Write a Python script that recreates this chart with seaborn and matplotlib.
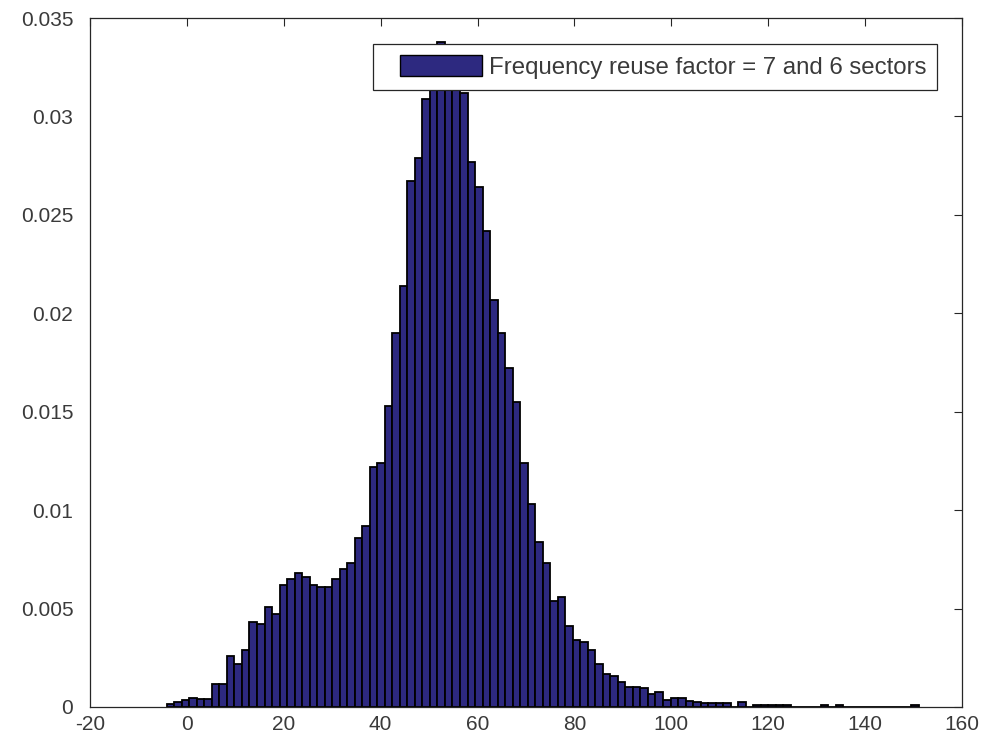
import numpy as np
import pandas as pd
import matplotlib
matplotlib.use("Agg")
import matplotlib.pyplot as plt
import seaborn as sns
from matplotlib.patches import Patch, Rectangle
from matplotlib.legend_handler import HandlerPatch

# Histogram of the distribution (probability density per bin)
bin_start = -4.15
bin_width = 1.552
density = [
    0.00015, 0.00025, 0.00034, 0.00044, 0.00040, 0.00040, 0.00117, 0.00117, 0.00260, 0.00220,
    0.00290, 0.00430, 0.00420, 0.00510, 0.00470, 0.00620, 0.00650, 0.00680, 0.00660, 0.00620,
    0.00610, 0.00610, 0.00650, 0.00700, 0.00730, 0.00860, 0.00920, 0.01220, 0.01240, 0.01530,
    0.01900, 0.02140, 0.02670, 0.02790, 0.03090, 0.03200, 0.03380, 0.03300, 0.03220, 0.03120,
    0.02770, 0.02640, 0.02420, 0.02070, 0.01900, 0.01720, 0.01550, 0.01240, 0.01030, 0.00840,
    0.00730, 0.00540, 0.00560, 0.00410, 0.00340, 0.00330, 0.00290, 0.00220, 0.00170, 0.00160,
    0.00125, 0.00103, 0.00103, 0.00095, 0.00066, 0.00077, 0.00034, 0.00047, 0.00044, 0.00032,
    0.00024, 0.00020, 0.00020, 0.00018, 0.00018, 0.00000, 0.00025, 0.00000, 0.00010, 0.00012,
    0.00012, 0.00012, 0.00010, 0.00000, 0.00000, 0.00000, 0.00000, 0.00010, 0.00000, 0.00010,
    0.00000, 0.00000, 0.00000, 0.00000, 0.00000, 0.00000, 0.00000, 0.00000, 0.00000, 0.00012,
]
legend_label = "Frequency reuse factor = 7 and 6 sectors"

x_ticks = [-20, 0, 20, 40, 60, 80, 100, 120, 140, 160]
y_ticks = [0, 0.005, 0.01, 0.015, 0.02, 0.025, 0.03, 0.035]
y_tick_labels = ["0", "0.005", "0.01", "0.015", "0.02", "0.025", "0.03", "0.035"]

n_bins = len(density)
bin_end = bin_start + bin_width * n_bins
centers = bin_start + bin_width * (np.arange(n_bins) + 0.5)
hist_df = pd.DataFrame({"value": centers, "density": density})

sns.set_theme(style="white")
plt.rcParams["font.family"] = ["Liberation Sans", "DejaVu Sans"]

bar_face = "#2d2980"
ink = "#262626"
label_ink = "#3a3a3a"

fig = plt.figure(figsize=(9.86, 7.53), dpi=100)
ax = fig.add_axes([90 / 986, 1 - 707 / 753, 872 / 986, 689 / 753])

sns.histplot(data=hist_df, x="value", weights="density",
             binwidth=bin_width, binrange=(bin_start, bin_end), stat="count",
             color=bar_face, edgecolor="black", linewidth=1.3, alpha=1.0, ax=ax)

ax.set_xlim(-20, 160)
ax.set_ylim(0, 0.035)
ax.set_xticks(x_ticks)
ax.set_xticklabels([str(t) for t in x_ticks])
ax.set_yticks(y_ticks)
ax.set_yticklabels(y_tick_labels)
ax.set_xlabel("")
ax.set_ylabel("")

for side in ["left", "right", "top", "bottom"]:
    ax.spines[side].set_visible(True)
    ax.spines[side].set_color(ink)
    ax.spines[side].set_linewidth(0.9)

ax.tick_params(axis="both", which="major", direction="in", length=5.5, width=0.8,
               color=ink, labelcolor=label_ink, labelsize=15, top=True, right=True,
               labeltop=False, labelright=False)
ax.tick_params(axis="x", pad=6)
ax.tick_params(axis="y", pad=12)


def inset_patch(legend, orig_handle, xdescent, ydescent, width, height, fontsize):
    inset = 11.5
    return Rectangle((-xdescent + inset, -ydescent), width - inset, height)


handle = Patch(facecolor=bar_face, edgecolor="black", linewidth=1.0)
leg = ax.legend([handle], [legend_label], loc="upper right",
                bbox_to_anchor=((937 - 90) / 872, (707 - 44) / 689),
                borderaxespad=0, fontsize=17.3, frameon=True, fancybox=False,
                framealpha=1.0, edgecolor=ink, borderpad=0.45,
                handlelength=4.08, handleheight=1.0, handletextpad=0.29,
                handler_map={Patch: HandlerPatch(patch_func=inset_patch)})
leg.get_frame().set_linewidth(0.9)
for t in leg.get_texts():
    t.set_color(label_ink)

fig.savefig("out.png", dpi=100, facecolor="white")
